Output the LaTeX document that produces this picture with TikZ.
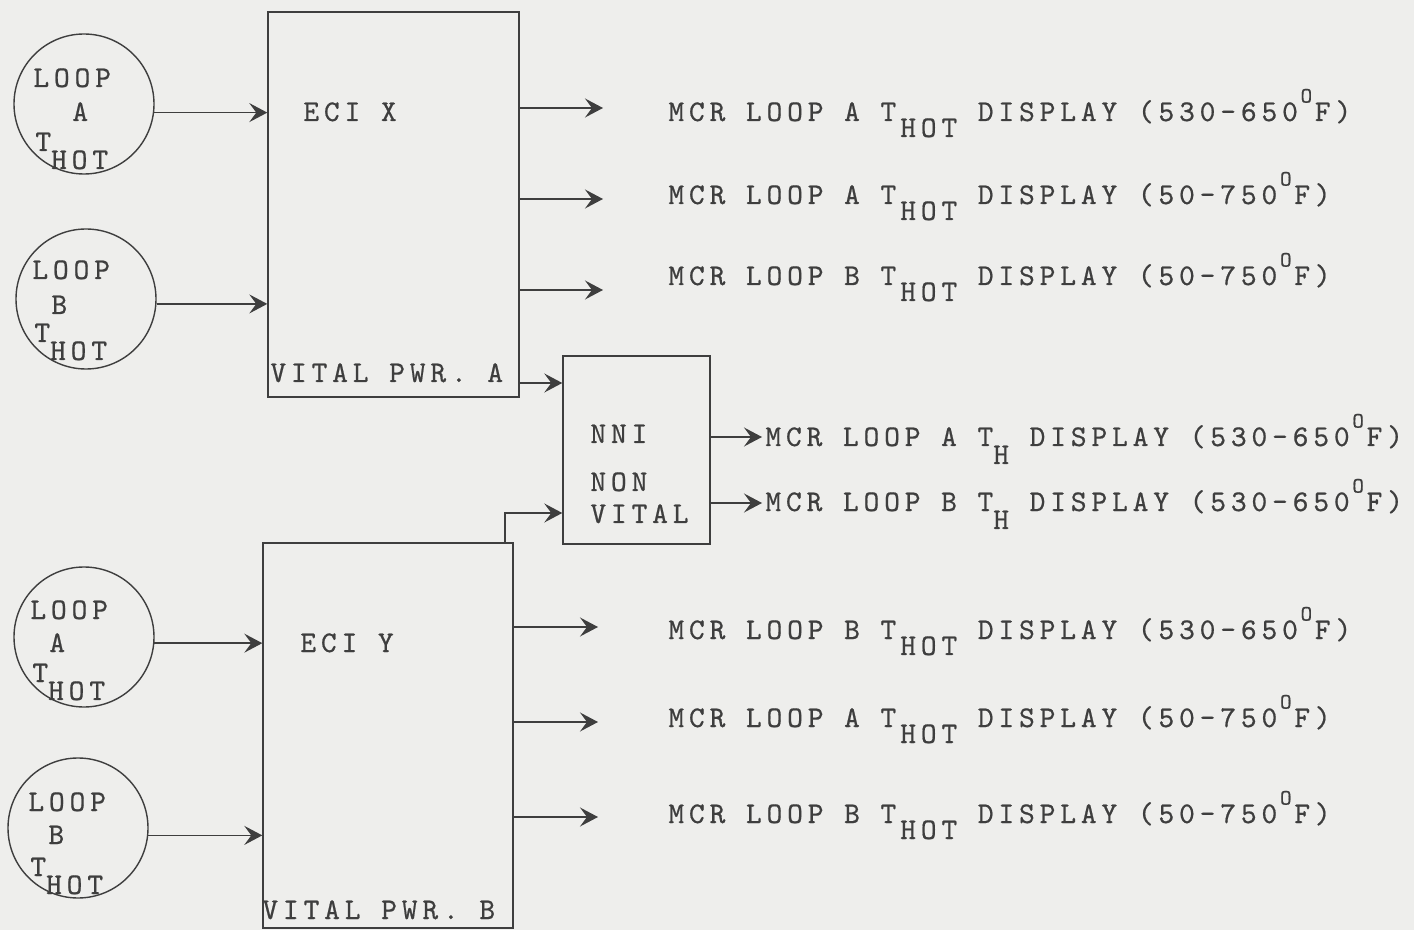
\documentclass[tikz,border=0pt]{standalone}
\usepackage{fontspec}
\usetikzlibrary{arrows.meta}
\newfontfamily\twfam{lmmono10-regular.otf}[LetterSpace=16.2,FakeBold=0.6]
\newcommand\tw{\twfam\fontsize{15}{18}\selectfont}
\newcommand\dg{\makebox[8.5pt][c]{\raisebox{9.2pt}{\fontsize{11}{11}\selectfont O}}}
\newcommand\sub[1]{\kern2pt\raisebox{-8pt}{#1}}
\newcommand\subc[1]{\raisebox{-9pt}{#1}}
\definecolor{bgc}{RGB}{238,238,236}
\definecolor{inkc}{RGB}{62,62,62}
\tikzset{
  blk/.style={draw=inkc, line width=0.7pt, rectangle, inner sep=0pt},
  loopc/.style={draw=inkc, line width=0.7pt, circle, minimum size=70pt, inner sep=0pt},
  arr/.style={draw=inkc, line width=0.7pt, -{Stealth[length=9pt,width=9.5pt,inset=3.5pt]}},
  txt/.style={anchor=base west, inner sep=0pt, text=inkc, font=\tw},
}
\begin{document}
\begin{tikzpicture}[x=0.5pt,y=-0.5pt]
\fill[bgc] (0,0) rectangle (1414,930);
\useasboundingbox (0,0) rectangle (1414,930);

% circles
\node[loopc] (la1) at (84,104) {};
\node[loopc] (lb1) at (86,299) {};
\node[loopc] (la2) at (84,637) {};
\node[loopc] (lb2) at (78,828) {};

\node[txt] (la1t1) at (33,87) {LOOP};
\node[txt] (la1t2) at (72,121) {A};
\node[txt] (la1t3) at (35,151) {T\subc{HOT}};
\node[txt] (lb1t1) at (32,279) {LOOP};
\node[txt] (lb1t2) at (51,314) {B};
\node[txt] (lb1t3) at (34,342) {T\subc{HOT}};
\node[txt] (la2t1) at (30,619) {LOOP};
\node[txt] (la2t2) at (49,652) {A};
\node[txt] (la2t3) at (32,682) {T\subc{HOT}};
\node[txt] (lb2t1) at (28,811) {LOOP};
\node[txt] (lb2t2) at (48,844) {B};
\node[txt] (lb2t3) at (30,876) {T\subc{HOT}};

% boxes
\node[blk, minimum width=125.5pt, minimum height=192.5pt] (ecix) at (393.5,204.5) {};
\node[blk, minimum width=125pt, minimum height=192.5pt] (eciy) at (388,735.5) {};
\node[blk, minimum width=73.5pt, minimum height=94pt] (nni) at (636.5,450) {};

\node[txt] (ecixt) at (303,121) {ECI X};
\node[txt] (vpa) at (270,382) {VITAL PWR. A};
\node[txt] (eciyt) at (300,652) {ECI Y};
\node[txt] (vpb) at (262,919) {VITAL PWR. B};
\node[txt] (nnit1) at (590,443) {NNI};
\node[txt] (nnit2) at (590,491) {NON};
\node[txt] (nnit3) at (590,523) {VITAL};

% inputs
\draw[arr] (la1.-7) -- (ecix.west |- la1.-7);
\draw[arr] (lb1.-4) -- (ecix.west |- lb1.-4);
\draw[arr] (la2.-5) -- (eciy.west |- la2.-5);
\draw[arr] (lb2.-6) -- (eciy.west |- lb2.-6);

% output tips
\coordinate (t1) at (603,108);
\coordinate (t2) at (603,199);
\coordinate (t3) at (603,290);
\coordinate (t4) at (598,627);
\coordinate (t5) at (598,722);
\coordinate (t6) at (598,817);
\coordinate (t7) at (762,437);
\coordinate (t8) at (762,503);
\coordinate (j) at (505,513);
\coordinate (ja) at (563,383);

\draw[arr] (ecix.east |- t1) -- (t1);
\draw[arr] (ecix.east |- t2) -- (t2);
\draw[arr] (ecix.east |- t3) -- (t3);
\draw[arr] (eciy.east |- t4) -- (t4);
\draw[arr] (eciy.east |- t5) -- (t5);
\draw[arr] (eciy.east |- t6) -- (t6);
\draw[arr] (ecix.east |- ja) -- (nni.west |- ja);
\draw[arr] (eciy.north -| j) -- (j) -- (nni.west |- j);
\draw[arr] (nni.east |- t7) -- (t7);
\draw[arr] (nni.east |- t8) -- (t8);

% display texts
\node[txt] (d1) at (668,121) {MCR LOOP A T\sub{HOT} DISPLAY (530-650\dg F)};
\node[txt] (d2) at (668,204) {MCR LOOP A T\sub{HOT} DISPLAY (50-750\dg F)};
\node[txt] (d3) at (668,285) {MCR LOOP B T\sub{HOT} DISPLAY (50-750\dg F)};
\node[txt] (d4) at (765,446) {MCR LOOP A T\subc{H} DISPLAY (530-650\dg F)};
\node[txt] (d5) at (765,511) {MCR LOOP B T\subc{H} DISPLAY (530-650\dg F)};
\node[txt] (d6) at (668,639) {MCR LOOP B T\sub{HOT} DISPLAY (530-650\dg F)};
\node[txt] (d7) at (668,727) {MCR LOOP A T\sub{HOT} DISPLAY (50-750\dg F)};
\node[txt] (d8) at (668,823) {MCR LOOP B T\sub{HOT} DISPLAY (50-750\dg F)};
\end{tikzpicture}
\end{document}
